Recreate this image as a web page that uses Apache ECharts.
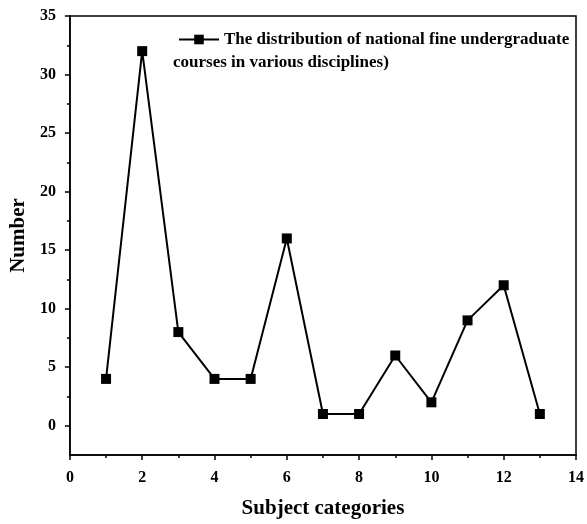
<!DOCTYPE html>
<html>
<head>
<meta charset="utf-8">
<script src="https://cdn.jsdelivr.net/npm/echarts@6/dist/echarts.min.js"></script>
<style>
  html, body { margin: 0; padding: 0; background: #fff; }
  #chart { width: 587px; height: 524px; }
</style>
</head>
<body>
<div id="chart"></div>
<script>
// subject category index and number of courses
var categories = [1, 2, 3, 4, 5, 6, 7, 8, 9, 10, 11, 12, 13];
var courseCounts = [4, 32, 8, 4, 4, 16, 1, 1, 6, 2, 9, 12, 1];
var yTicks = [0, 5, 10, 15, 20, 25, 30, 35];
var yMinorTicks = [2.5, 7.5, 12.5, 17.5, 22.5, 27.5, 32.5];
var legendLine1 = 'The distribution of national fine undergraduate';
var legendLine2 = 'courses in various disciplines)';

var font = 'Liberation Serif';
var chart = echarts.init(document.getElementById('chart'));

var points = categories.map(function (c, i) { return [c, courseCounts[i]]; });

var black = { color: '#000', width: 1.5 };

var option = {
  backgroundColor: '#fff',
  animation: false,
  grid: {
    left: 69, right: 9, top: 16, bottom: 67,
    show: true, borderColor: '#000', borderWidth: 1.5
  },
  legend: {
    left: 173, top: 26,
    itemWidth: 40, itemHeight: 12, itemGap: 0,
    textStyle: { fontFamily: font, fontWeight: 'bold', fontSize: 17, color: '#000' },
    formatter: function () { return legendLine1; }
  },
  graphic: [{
    type: 'text', left: 173, top: 54,
    style: { text: legendLine2, font: 'bold 17px "' + font + '"', fill: '#000' }
  }],
  xAxis: {
    type: 'value', min: 0, max: 14, interval: 2,
    name: 'Subject categories', nameLocation: 'middle', nameGap: 43,
    nameTextStyle: { fontFamily: font, fontWeight: 'bold', fontSize: 21, color: '#000' },
    axisLine: { onZero: false, lineStyle: black },
    axisTick: { length: 5, lineStyle: black },
    minorTick: { show: true, splitNumber: 2, length: 3, lineStyle: black },
    axisLabel: { fontFamily: font, fontWeight: 'bold', fontSize: 16, color: '#000', margin: 15 },
    splitLine: { show: false }
  },
  yAxis: [{
    type: 'value', min: -2.5, max: 35,
    name: 'Number', nameLocation: 'middle', nameGap: 34,
    nameTextStyle: { fontFamily: font, fontWeight: 'bold', fontSize: 21, color: '#000' },
    axisLine: { show: true, onZero: false, lineStyle: black },
    axisTick: { show: true, length: 5, lineStyle: black, customValues: yTicks },
    axisLabel: {
      fontFamily: font, fontWeight: 'bold', fontSize: 16, color: '#000', margin: 14,
      customValues: yTicks
    },
    splitLine: { show: false }
  }, {
    // second copy of the left axis, only for the short minor ticks
    type: 'value', min: -2.5, max: 35, position: 'left',
    axisLine: { show: false },
    axisTick: { show: true, length: 3, lineStyle: black, customValues: yMinorTicks },
    axisLabel: { show: false },
    splitLine: { show: false }
  }],
  series: [{
    name: legendLine1,
    type: 'line',
    data: points,
    symbol: 'rect', symbolSize: 10,
    lineStyle: { color: '#000', width: 2 },
    itemStyle: { color: '#000' }
  }]
};

chart.setOption(option);
</script>
</body>
</html>
